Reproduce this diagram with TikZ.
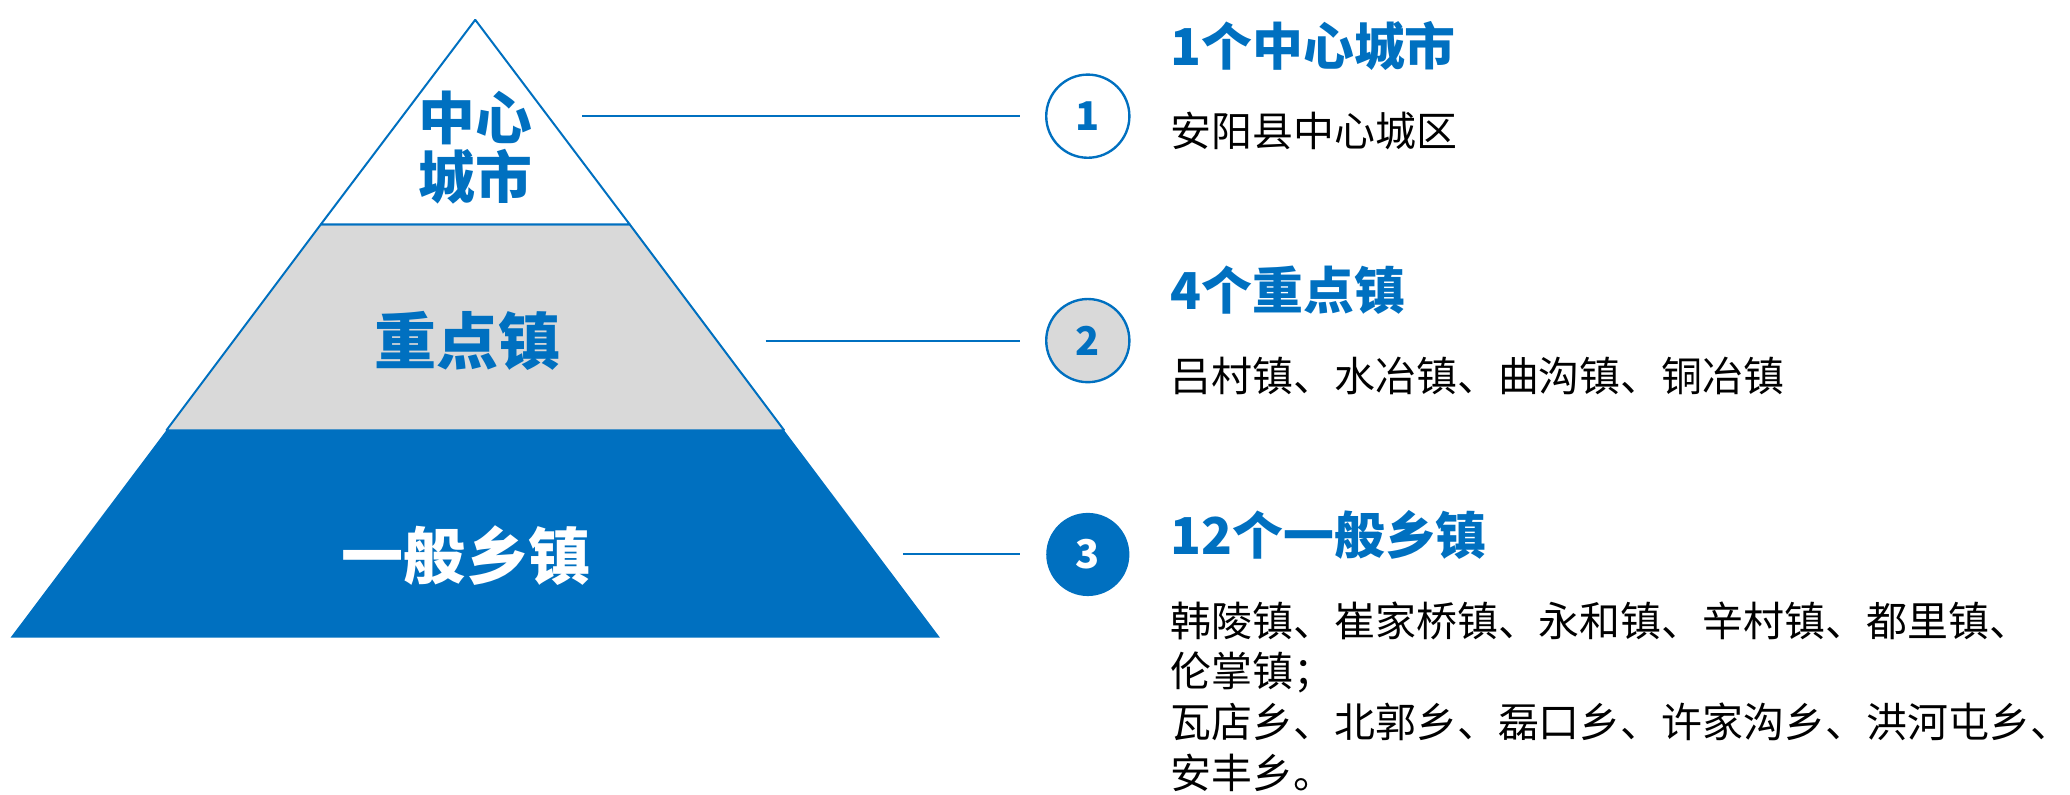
\documentclass[tikz,border=0pt]{standalone}
\usepackage{fontspec}
\setmainfont{Noto Sans CJK SC}
\usepackage{tikz}

\definecolor{lvblue}{HTML}{0070C0}
\definecolor{lvgrey}{HTML}{D9D9D9}

\begin{document}
\begin{tikzpicture}[x=1pt, y=-1pt, line join=bevel]
	\pgfsetlinewidth{1.5pt}

	\tikzstyle{num} = [draw=lvblue, shape=circle, minimum size=63pt, inner sep=0pt, line width=1.8pt, font=\bfseries\fontsize{30}{30}\selectfont];
	\tikzstyle{level} = [inner sep=0pt, align=center, font=\bfseries\fontsize{47}{46}\selectfont];
	\tikzstyle{title} = [anchor=west, inner sep=0pt, text=lvblue, font=\bfseries\fontsize{38.5}{40}\selectfont];
	\tikzstyle{body} = [anchor=west, inner sep=0pt, align=left, font=\fontsize{31}{38.3}\selectfont];
	\tikzstyle{leader} = [draw=lvblue, line width=1.5pt, shorten >=19pt];

	\useasboundingbox (0,0) rectangle (1568,602);

	\coordinate (top) at (360,15);
	\coordinate (tl) at (243,170);
	\coordinate (tr) at (477,170);
	\coordinate (ml) at (126,326);
	\coordinate (mr) at (594,326);
	\coordinate (bl) at (8,483);
	\coordinate (br) at (712,483);

	\fill[lvblue] (bl) -- (br) -- (mr) -- (ml) -- cycle;
	\filldraw[fill=lvgrey, draw=lvblue] (ml) -- (tl) -- (tr) -- (mr) -- cycle;
	\filldraw[fill=white, draw=lvblue] (tl) -- (top) -- (tr) -- cycle;

	\node[level, text=lvblue, font=\bfseries\fontsize{43}{45}\selectfont] at (360,112) (p1) {中心\\城市};
	\node[level, text=lvblue] at (354,258) (p2) {重点镇};
	\node[level, text=white] at (353,421) (p3) {一般乡镇};

	\node[num, fill=white, text=lvblue] at (824,88) (1) {1};
	\node[num, fill=lvgrey, text=lvblue] at (824,258) (2) {2};
	\node[num, fill=lvblue, draw=none, text=white] at (824,420) (3) {3};

	\coordinate (a1) at (441,88);
	\coordinate (a2) at (580,258);
	\coordinate (a3) at (684,420);
	\draw[leader] (a1) -- (1);
	\draw[leader] (a2) -- (2);
	\draw[leader] (a3) -- (3);

	\node[title] at (886,35) (t1) {1个中心城市};
	\node[body] at (886,99) (b1) {安阳县中心城区};
	\node[title] at (886,220) (t2) {4个重点镇};
	\node[body] at (886,285) (b2) {吕村镇、水冶镇、曲沟镇、铜冶镇};
	\node[title] at (886,405) (t3) {12个一般乡镇};
	\node[body, anchor=north west] at (886,455) (b3) {韩陵镇、崔家桥镇、永和镇、辛村镇、都里镇、\\伦掌镇；\\瓦店乡、北郭乡、磊口乡、许家沟乡、洪河屯乡、\\安丰乡。};
\end{tikzpicture}
\end{document}
